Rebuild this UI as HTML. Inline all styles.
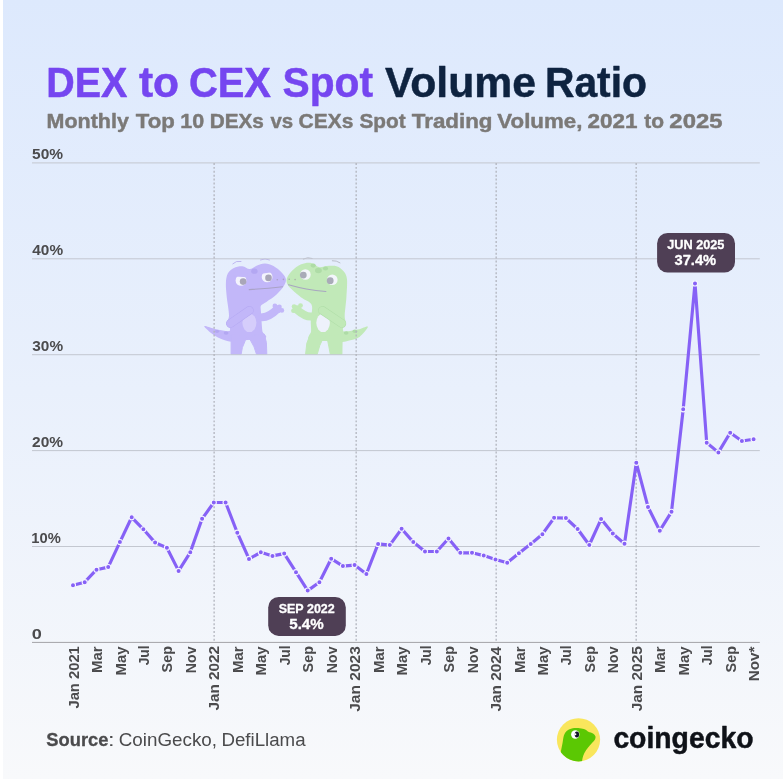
<!DOCTYPE html>
<html lang="en">
<head>
<meta charset="utf-8">
<title>DEX to CEX Spot Volume Ratio</title>
<style>
html,body{margin:0;padding:0;background:#fff;}
body{width:783px;height:779px;overflow:hidden;}
svg{display:block;font-family:"Liberation Sans",sans-serif;}
</style>
</head>
<body>
<svg width="783" height="779" viewBox="0 0 783 779">
<defs>
<linearGradient id="bg" x1="0" y1="0" x2="0" y2="1">
<stop offset="0" stop-color="#dde9fd"/>
<stop offset="0.5" stop-color="#e9f0fc"/>
<stop offset="1" stop-color="#f8f9fb"/>
</linearGradient>
</defs>
<rect x="0" y="0" width="783" height="779" fill="#fff"/>
<rect x="3" y="0" width="780" height="779" fill="url(#bg)"/>
<g id="geckos">
<path d="M204.2,326.3C204.4,325.3 210.6,328.0 214.1,328.7C217.7,329.5 222.3,330.5 225.4,331.0C228.6,331.6 231.9,330.3 233.2,332.0C234.5,333.7 235.0,340.2 233.2,341.5C231.4,342.7 225.9,340.6 222.6,339.5C219.3,338.4 216.5,337.0 213.4,334.8C210.4,332.6 204.1,327.4 204.2,326.3Z" fill="#c2b7f9"/>
<ellipse cx="217.0" cy="331.3" rx="2.2" ry="1.6" fill="#b3a7f2"/>
<ellipse cx="226.1" cy="333.0" rx="2.4" ry="1.7" fill="#b3a7f2"/>
<path d="M231.1,339.8C225.4,338.1 230.8,331.2 230.0,328.5C229.2,325.8 226.4,325.6 226.3,323.5C226.1,321.4 228.9,320.1 229.0,315.8C229.1,311.4 227.4,302.8 226.8,297.4C226.3,292.0 225.7,287.3 225.9,283.3C226.0,279.3 226.5,275.9 227.8,273.4C229.2,270.8 231.5,269.2 233.9,268.0C236.3,266.8 239.7,266.1 242.4,266.3C245.0,266.5 247.4,269.2 249.7,269.1C252.1,269.0 254.0,266.7 256.5,265.7C259.1,264.8 262.2,263.4 265.0,263.5C267.8,263.5 270.6,264.5 273.5,266.0C276.3,267.6 279.9,270.4 281.9,272.7C284.0,274.9 285.6,277.1 285.9,279.3C286.2,281.5 285.5,283.2 283.9,285.8C282.3,288.4 279.2,292.2 276.3,294.8C273.4,297.5 268.9,300.1 266.4,301.9C263.9,303.7 261.9,303.9 261.0,305.6C260.1,307.3 260.9,309.6 261.0,312.2C261.1,314.9 261.4,318.2 261.6,321.4C261.8,324.6 262.0,328.5 262.4,331.3C262.9,334.1 269.5,336.9 264.3,338.4C259.1,339.8 236.8,341.4 231.1,339.8Z" fill="#c2b7f9"/>
<path d="M231.1,334.1 L246.6,336.2 L244.9,341.5 L242.4,347.5 L241.1,354.3 L231.1,354.3Z" fill="#c2b7f9" stroke="#c2b7f9" stroke-width="1" stroke-linejoin="round"/>
<path d="M247.3,336.2 L264.3,334.1 L266.4,342.6 L266.8,354.3 L256.5,354.3 L254.0,346.8 L250.2,339.8Z" fill="#c2b7f9" stroke="#c2b7f9" stroke-width="1" stroke-linejoin="round"/>
<path d="M262.2,317.2 Q269.2,317.2 277.0,309.4" fill="none" stroke="#c2b7f9" stroke-width="8" stroke-linecap="round"/>
<circle cx="274.9" cy="305.9" r="2.4" fill="#c2b7f9"/>
<circle cx="279.4" cy="307.0" r="2.4" fill="#c2b7f9"/>
<circle cx="281.9" cy="310.4" r="2.3" fill="#c2b7f9"/>
<circle cx="277.7" cy="309.4" r="3.6" fill="#c2b7f9"/>
<ellipse cx="249.4" cy="322.8" rx="7" ry="9.3" fill="#d5cdfb"/>
<path d="M230.4,323.5 L249.4,310.4" fill="none" stroke="#b3a7f2" stroke-width="8.6" stroke-linecap="round"/>
<path d="M230.4,323.5 L249.4,310.4" fill="none" stroke="#c2b7f9" stroke-width="7.6" stroke-linecap="round"/>
<circle cx="241.0" cy="280.4" r="5.4" fill="#f3f3fd"/>
<circle cx="243.1" cy="281.6" r="3.3" fill="#a9a6b8"/>
<circle cx="267.1" cy="276.9" r="5.4" fill="#f3f3fd"/>
<circle cx="268.5" cy="277.9" r="3.3" fill="#a9a6b8"/>
<path d="M233.9,276.5 L248.0,277.3 L247.3,273.4 L234.6,271.2Z" fill="#c2b7f9"/>
<path d="M260.0,273.9 L273.5,272.0 L273.5,268.4 L260.0,269.1Z" fill="#c2b7f9"/>
<ellipse cx="254.4" cy="271.2" rx="3.2" ry="2.6" fill="#b3a7f2"/>
<path d="M249.2,289.6 Q266.4,288.6 282.7,286.8" fill="none" stroke="#a9a2c6" stroke-width="1.1" stroke-linecap="round"/>
<circle cx="277.3" cy="279.7" r="0.8" fill="#a9a2c6"/>
<circle cx="283.4" cy="279.4" r="0.8" fill="#a9a2c6"/>
<path d="M232.8,263.8 Q236.0,260.4 241.0,261.4" fill="none" stroke="#b9b0ee" stroke-width="0.9" stroke-linecap="round"/>
<path d="M260.5,259.9 Q265.0,257.8 269.5,259.9" fill="none" stroke="#b9b0ee" stroke-width="0.9" stroke-linecap="round"/>
<path d="M367.9,326.8C367.8,325.5 362.5,328.4 359.1,329.2C355.8,329.9 351.0,330.8 347.8,331.3C344.6,331.8 341.2,330.7 340.0,332.4C338.9,334.1 339.2,340.1 340.8,341.5C342.3,342.8 346.0,341.4 349.2,340.6C352.4,339.8 356.7,339.0 359.8,336.7C362.9,334.4 368.0,328.0 367.9,326.8Z" fill="#c1e9b8"/>
<ellipse cx="346.1" cy="333.0" rx="2.4" ry="1.7" fill="#aedca6"/>
<ellipse cx="354.9" cy="331.3" rx="2.4" ry="1.7" fill="#aedca6"/>
<path d="M286.8,278.7C287.5,276.4 289.6,273.2 292.0,270.8C294.4,268.4 298.0,265.6 301.2,264.3C304.4,263.0 308.1,262.4 311.1,262.9C314.1,263.4 316.7,266.6 319.3,267.2C321.9,267.7 323.8,266.2 326.6,266.0C329.5,265.9 333.7,265.4 336.5,266.3C339.3,267.2 341.8,269.1 343.6,271.2C345.3,273.4 346.5,274.9 347.0,279.3C347.4,283.7 346.8,291.3 346.4,297.4C346.0,303.5 344.8,311.5 344.7,315.8C344.6,320.0 346.1,321.0 345.8,323.1C345.5,325.2 343.5,325.7 342.9,328.5C342.3,331.2 347.6,337.9 342.2,339.8C336.7,341.7 315.6,341.2 310.4,339.8C305.2,338.4 311.0,334.6 311.1,331.3C311.2,328.0 310.7,324.4 310.8,320.0C310.9,315.6 313.2,308.5 311.6,304.7C310.0,301.0 304.3,299.8 301.2,297.4C298.0,295.0 295.0,292.4 292.7,290.3C290.5,288.2 288.8,286.9 287.8,285.0C286.8,283.0 286.1,281.1 286.8,278.7Z" fill="#c1e9b8"/>
<path d="M310.4,334.1 L326.6,336.2 L322.4,339.8 L319.8,345.4 L317.2,354.3 L305.6,354.3 L306.8,343.3Z" fill="#c1e9b8" stroke="#c1e9b8" stroke-width="1" stroke-linejoin="round"/>
<path d="M325.2,336.2 L342.2,334.1 L341.9,354.3 L330.3,354.3 L328.9,346.8 L327.5,339.8Z" fill="#c1e9b8" stroke="#c1e9b8" stroke-width="1" stroke-linejoin="round"/>
<path d="M311.8,316.5 Q305.4,317.2 296.7,309.4" fill="none" stroke="#c1e9b8" stroke-width="8" stroke-linecap="round"/>
<circle cx="294.1" cy="306.6" r="2.4" fill="#c1e9b8"/>
<circle cx="300.5" cy="305.6" r="2.4" fill="#c1e9b8"/>
<circle cx="293.4" cy="310.8" r="2.3" fill="#c1e9b8"/>
<circle cx="297.0" cy="309.4" r="3.6" fill="#c1e9b8"/>
<ellipse cx="323.1" cy="322.8" rx="6.8" ry="9.3" fill="#eef1fb"/>
<path d="M341.9,323.5 L322.4,310.4" fill="none" stroke="#aedca6" stroke-width="8.6" stroke-linecap="round"/>
<path d="M341.9,323.5 L322.4,310.4" fill="none" stroke="#c1e9b8" stroke-width="7.6" stroke-linecap="round"/>
<circle cx="305.4" cy="274.5" r="5.3" fill="#f3f6fb"/>
<circle cx="303.3" cy="275.1" r="3.4" fill="#a9abb8"/>
<circle cx="332.3" cy="279.7" r="5.3" fill="#f3f6fb"/>
<circle cx="330.2" cy="280.7" r="3.4" fill="#a9abb8"/>
<ellipse cx="313.2" cy="265.6" rx="2.6" ry="2.1" fill="#aedca6"/>
<ellipse cx="318.4" cy="270.5" rx="3.4" ry="2.8" fill="#aedca6"/>
<ellipse cx="325.5" cy="268.4" rx="2.6" ry="2.0" fill="#aedca6"/>
<path d="M288.5,284.7 Q305.4,289.6 325.9,291.5" fill="none" stroke="#a8a6c0" stroke-width="1.1" stroke-linecap="round"/>
<circle cx="289.2" cy="279.3" r="0.8" fill="#a8b0a8"/>
<circle cx="295.1" cy="279.6" r="0.8" fill="#a8b0a8"/>
<path d="M303.3,259.0 Q307.6,256.7 312.2,258.4" fill="none" stroke="#b5b9c4" stroke-width="0.9" stroke-linecap="round"/>
<path d="M332.3,260.7 Q336.5,260.4 340.0,262.8" fill="none" stroke="#b5b9c4" stroke-width="0.9" stroke-linecap="round"/>
</g>
<g fill="#c3c7d0"><rect x="32" y="162.40" width="727.8" height="1"/><rect x="32" y="258.30" width="727.8" height="1"/><rect x="32" y="354.20" width="727.8" height="1"/><rect x="32" y="450.10" width="727.8" height="1"/><rect x="32" y="546.00" width="727.8" height="1"/><rect x="32" y="641.90" width="727.8" height="1" fill="#a3a4a8"/></g>
<g stroke="#b1b4bd" stroke-width="1.3" stroke-dasharray="1.95 1.95"><line x1="214.13" y1="163" x2="214.13" y2="642"/><line x1="356.17" y1="163" x2="356.17" y2="642"/><line x1="496.17" y1="163" x2="496.17" y2="642"/><line x1="636.17" y1="163" x2="636.17" y2="642"/></g>
<polyline points="73.0,585.2 84.7,582.2 96.5,569.7 108.2,567.1 119.9,542.1 131.7,517.3 143.4,529.3 155.1,542.6 166.9,547.7 178.6,570.9 190.3,552.3 202.1,518.8 213.8,502.5 225.6,502.5 237.3,532.7 249.0,558.9 260.8,552.3 272.5,555.9 284.2,553.6 296.0,572.2 307.7,590.6 319.4,582.2 331.2,558.7 342.9,566.1 354.6,565.1 366.4,574.0 378.1,543.9 389.8,545.1 401.6,528.8 413.3,542.1 425.0,551.5 436.8,551.5 448.5,538.5 460.3,552.8 472.0,552.8 483.7,555.6 495.5,559.4 507.2,562.8 518.9,553.3 530.7,544.1 542.4,534.2 554.1,517.8 565.9,518.1 577.6,529.0 589.3,545.0 601.1,519.1 612.8,533.6 624.5,543.7 636.3,462.8 648.0,506.9 659.8,530.7 671.5,511.8 683.2,409.3 695.0,283.4 706.7,442.8 718.4,452.4 730.2,432.8 741.9,441.0 753.6,439.2" fill="none" stroke="#8661f6" stroke-width="3.15" stroke-linejoin="round" stroke-linecap="round"/>
<g fill="#8661f6" stroke="#f5f5ff" stroke-width="1.1"><circle cx="73.0" cy="585.2" r="2.55"/><circle cx="84.7" cy="582.2" r="2.55"/><circle cx="96.5" cy="569.7" r="2.55"/><circle cx="108.2" cy="567.1" r="2.55"/><circle cx="119.9" cy="542.1" r="2.55"/><circle cx="131.7" cy="517.3" r="2.55"/><circle cx="143.4" cy="529.3" r="2.55"/><circle cx="155.1" cy="542.6" r="2.55"/><circle cx="166.9" cy="547.7" r="2.55"/><circle cx="178.6" cy="570.9" r="2.55"/><circle cx="190.3" cy="552.3" r="2.55"/><circle cx="202.1" cy="518.8" r="2.55"/><circle cx="213.8" cy="502.5" r="2.55"/><circle cx="225.6" cy="502.5" r="2.55"/><circle cx="237.3" cy="532.7" r="2.55"/><circle cx="249.0" cy="558.9" r="2.55"/><circle cx="260.8" cy="552.3" r="2.55"/><circle cx="272.5" cy="555.9" r="2.55"/><circle cx="284.2" cy="553.6" r="2.55"/><circle cx="296.0" cy="572.2" r="2.55"/><circle cx="307.7" cy="590.6" r="2.55"/><circle cx="319.4" cy="582.2" r="2.55"/><circle cx="331.2" cy="558.7" r="2.55"/><circle cx="342.9" cy="566.1" r="2.55"/><circle cx="354.6" cy="565.1" r="2.55"/><circle cx="366.4" cy="574.0" r="2.55"/><circle cx="378.1" cy="543.9" r="2.55"/><circle cx="389.8" cy="545.1" r="2.55"/><circle cx="401.6" cy="528.8" r="2.55"/><circle cx="413.3" cy="542.1" r="2.55"/><circle cx="425.0" cy="551.5" r="2.55"/><circle cx="436.8" cy="551.5" r="2.55"/><circle cx="448.5" cy="538.5" r="2.55"/><circle cx="460.3" cy="552.8" r="2.55"/><circle cx="472.0" cy="552.8" r="2.55"/><circle cx="483.7" cy="555.6" r="2.55"/><circle cx="495.5" cy="559.4" r="2.55"/><circle cx="507.2" cy="562.8" r="2.55"/><circle cx="518.9" cy="553.3" r="2.55"/><circle cx="530.7" cy="544.1" r="2.55"/><circle cx="542.4" cy="534.2" r="2.55"/><circle cx="554.1" cy="517.8" r="2.55"/><circle cx="565.9" cy="518.1" r="2.55"/><circle cx="577.6" cy="529.0" r="2.55"/><circle cx="589.3" cy="545.0" r="2.55"/><circle cx="601.1" cy="519.1" r="2.55"/><circle cx="612.8" cy="533.6" r="2.55"/><circle cx="624.5" cy="543.7" r="2.55"/><circle cx="636.3" cy="462.8" r="2.55"/><circle cx="648.0" cy="506.9" r="2.55"/><circle cx="659.8" cy="530.7" r="2.55"/><circle cx="671.5" cy="511.8" r="2.55"/><circle cx="683.2" cy="409.3" r="2.55"/><circle cx="695.0" cy="283.4" r="2.55"/><circle cx="706.7" cy="442.8" r="2.55"/><circle cx="718.4" cy="452.4" r="2.55"/><circle cx="730.2" cy="432.8" r="2.55"/><circle cx="741.9" cy="441.0" r="2.55"/><circle cx="753.6" cy="439.2" r="2.55"/></g>
<rect x="657.1" y="232.9" width="77.9" height="39.7" rx="10.5" fill="#4f3f55"/>
<rect x="268.2" y="596.9" width="77.6" height="39" rx="10.5" fill="#4f3f55"/>
<g id="logo">
<clipPath id="lc"><circle cx="578.5" cy="739.8" r="21.6"/></clipPath>
<circle cx="578.5" cy="739.8" r="21.6" fill="#f9e65c"/>
<path d="M557.3,767.2C556.4,764.3 559.5,757.9 560.3,753.9C561.2,750.0 561.8,746.8 562.4,743.7C563.0,740.7 563.2,737.7 563.9,735.5C564.6,733.4 565.3,732.1 566.7,730.9C568.0,729.8 569.6,729.0 571.8,728.5C573.9,728.0 577.5,728.0 579.7,728.2C582.0,728.3 583.6,728.8 585.1,729.4C586.5,730.0 587.1,731.0 588.4,731.7C589.8,732.3 591.9,732.8 593.0,733.5C594.2,734.2 595.0,735.2 595.4,736.2C595.7,737.1 595.5,738.3 595.0,739.4C594.4,740.5 593.2,741.5 592.0,742.9C590.8,744.3 589.2,746.1 587.9,747.8C586.7,749.5 585.3,751.2 584.4,752.9C583.6,754.6 583.0,756.3 582.6,758.0C582.2,759.7 582.0,761.3 581.8,763.1C581.6,765.0 584.0,767.9 581.3,769.3C578.5,770.6 569.4,771.6 565.4,771.3C561.4,771.0 558.1,770.1 557.3,767.2Z" fill="#5bc803" clip-path="url(#lc)"/>
<circle cx="575.3" cy="734.5" r="4.2" fill="#fff"/>
<ellipse cx="576.9" cy="734.5" rx="2.2" ry="3.0" fill="#15152a"/>
<circle cx="575.4" cy="734.2" r="1.0" fill="#fff"/>
</g>
<g>
<text x="46.19" y="97.00" font-size="42.4" font-weight="bold" fill="#7546f0" stroke="#7546f0" stroke-width="0.5" stroke-linejoin="round" textLength="81.15" lengthAdjust="spacingAndGlyphs">DEX</text>
<text x="138.95" y="97.00" font-size="42.4" font-weight="bold" fill="#7546f0" stroke="#7546f0" stroke-width="0.5" stroke-linejoin="round" textLength="40.12" lengthAdjust="spacingAndGlyphs">to</text>
<text x="188.90" y="97.00" font-size="42.4" font-weight="bold" fill="#7546f0" stroke="#7546f0" stroke-width="0.5" stroke-linejoin="round" textLength="82.04" lengthAdjust="spacingAndGlyphs">CEX</text>
<text x="282.55" y="97.00" font-size="42.4" font-weight="bold" fill="#7546f0" stroke="#7546f0" stroke-width="0.5" stroke-linejoin="round" textLength="90.52" lengthAdjust="spacingAndGlyphs">Spot</text>
<text x="385.00" y="97.00" font-size="42.4" font-weight="bold" fill="#0e2340" stroke="#0e2340" stroke-width="0.5" stroke-linejoin="round" textLength="150.93" lengthAdjust="spacingAndGlyphs">Volume</text>
<text x="545.01" y="97.00" font-size="42.4" font-weight="bold" fill="#0e2340" stroke="#0e2340" stroke-width="0.5" stroke-linejoin="round" textLength="101.91" lengthAdjust="spacingAndGlyphs">Ratio</text>
<text x="46.64" y="127.50" font-size="20.8" font-weight="bold" fill="#7b7977" stroke="#7b7977" stroke-width="0.45" stroke-linejoin="round" textLength="82.27" lengthAdjust="spacingAndGlyphs">Monthly</text>
<text x="135.76" y="127.50" font-size="20.8" font-weight="bold" fill="#7b7977" stroke="#7b7977" stroke-width="0.45" stroke-linejoin="round" textLength="39.00" lengthAdjust="spacingAndGlyphs">Top</text>
<text x="180.24" y="127.50" font-size="20.8" font-weight="bold" fill="#7b7977" stroke="#7b7977" stroke-width="0.45" stroke-linejoin="round" textLength="23.86" lengthAdjust="spacingAndGlyphs">10</text>
<text x="209.68" y="127.50" font-size="20.8" font-weight="bold" fill="#7b7977" stroke="#7b7977" stroke-width="0.45" stroke-linejoin="round" textLength="54.22" lengthAdjust="spacingAndGlyphs">DEXs</text>
<text x="270.43" y="127.50" font-size="20.8" font-weight="bold" fill="#7b7977" stroke="#7b7977" stroke-width="0.45" stroke-linejoin="round" textLength="22.72" lengthAdjust="spacingAndGlyphs">vs</text>
<text x="298.57" y="127.50" font-size="20.8" font-weight="bold" fill="#7b7977" stroke="#7b7977" stroke-width="0.45" stroke-linejoin="round" textLength="54.74" lengthAdjust="spacingAndGlyphs">CEXs</text>
<text x="359.53" y="127.50" font-size="20.8" font-weight="bold" fill="#7b7977" stroke="#7b7977" stroke-width="0.45" stroke-linejoin="round" textLength="46.17" lengthAdjust="spacingAndGlyphs">Spot</text>
<text x="411.76" y="127.50" font-size="20.8" font-weight="bold" fill="#7b7977" stroke="#7b7977" stroke-width="0.45" stroke-linejoin="round" textLength="80.78" lengthAdjust="spacingAndGlyphs">Trading</text>
<text x="497.36" y="127.50" font-size="20.8" font-weight="bold" fill="#7b7977" stroke="#7b7977" stroke-width="0.45" stroke-linejoin="round" textLength="84.97" lengthAdjust="spacingAndGlyphs">Volume,</text>
<text x="587.62" y="127.50" font-size="20.8" font-weight="bold" fill="#7b7977" stroke="#7b7977" stroke-width="0.45" stroke-linejoin="round" textLength="49.92" lengthAdjust="spacingAndGlyphs">2021</text>
<text x="644.17" y="127.50" font-size="20.8" font-weight="bold" fill="#7b7977" stroke="#7b7977" stroke-width="0.45" stroke-linejoin="round" textLength="19.80" lengthAdjust="spacingAndGlyphs">to</text>
<text x="669.36" y="127.50" font-size="20.8" font-weight="bold" fill="#7b7977" stroke="#7b7977" stroke-width="0.45" stroke-linejoin="round" textLength="53.10" lengthAdjust="spacingAndGlyphs">2025</text>
<text x="32.07" y="159.20" font-size="14.6" font-weight="bold" fill="#4b4b4d" textLength="31.03" lengthAdjust="spacingAndGlyphs">50%</text>
<text x="32.34" y="255.10" font-size="14.6" font-weight="bold" fill="#4b4b4d" textLength="30.76" lengthAdjust="spacingAndGlyphs">40%</text>
<text x="32.34" y="351.00" font-size="14.6" font-weight="bold" fill="#4b4b4d" textLength="30.76" lengthAdjust="spacingAndGlyphs">30%</text>
<text x="32.07" y="446.90" font-size="14.6" font-weight="bold" fill="#4b4b4d" textLength="31.03" lengthAdjust="spacingAndGlyphs">20%</text>
<text x="31.29" y="542.80" font-size="14.6" font-weight="bold" fill="#4b4b4d" textLength="29.48" lengthAdjust="spacingAndGlyphs">10%</text>
<text x="31.88" y="638.70" font-size="14.6" font-weight="bold" fill="#4b4b4d" textLength="10.10" lengthAdjust="spacingAndGlyphs">0</text>
<text transform="rotate(-90)" x="-708.55" y="78.60" font-size="14.6" font-weight="bold" fill="#4b4b4d" textLength="62.38" lengthAdjust="spacingAndGlyphs">Jan 2021</text>
<text transform="rotate(-90)" x="-672.92" y="102.07" font-size="14.6" font-weight="bold" fill="#4b4b4d" textLength="26.53" lengthAdjust="spacingAndGlyphs">Mar</text>
<text transform="rotate(-90)" x="-675.42" y="125.54" font-size="14.6" font-weight="bold" fill="#4b4b4d" textLength="28.96" lengthAdjust="spacingAndGlyphs">May</text>
<text transform="rotate(-90)" x="-665.33" y="149.01" font-size="14.6" font-weight="bold" fill="#4b4b4d" textLength="19.76" lengthAdjust="spacingAndGlyphs">Jul</text>
<text transform="rotate(-90)" x="-672.39" y="172.48" font-size="14.6" font-weight="bold" fill="#4b4b4d" textLength="26.30" lengthAdjust="spacingAndGlyphs">Sep</text>
<text transform="rotate(-90)" x="-673.17" y="195.95" font-size="14.6" font-weight="bold" fill="#4b4b4d" textLength="26.64" lengthAdjust="spacingAndGlyphs">Nov</text>
<text transform="rotate(-90)" x="-710.46" y="219.42" font-size="14.6" font-weight="bold" fill="#4b4b4d" textLength="64.57" lengthAdjust="spacingAndGlyphs">Jan 2022</text>
<text transform="rotate(-90)" x="-672.92" y="242.89" font-size="14.6" font-weight="bold" fill="#4b4b4d" textLength="26.53" lengthAdjust="spacingAndGlyphs">Mar</text>
<text transform="rotate(-90)" x="-675.42" y="266.36" font-size="14.6" font-weight="bold" fill="#4b4b4d" textLength="28.96" lengthAdjust="spacingAndGlyphs">May</text>
<text transform="rotate(-90)" x="-665.33" y="289.83" font-size="14.6" font-weight="bold" fill="#4b4b4d" textLength="19.76" lengthAdjust="spacingAndGlyphs">Jul</text>
<text transform="rotate(-90)" x="-672.39" y="313.30" font-size="14.6" font-weight="bold" fill="#4b4b4d" textLength="26.30" lengthAdjust="spacingAndGlyphs">Sep</text>
<text transform="rotate(-90)" x="-673.17" y="336.77" font-size="14.6" font-weight="bold" fill="#4b4b4d" textLength="26.64" lengthAdjust="spacingAndGlyphs">Nov</text>
<text transform="rotate(-90)" x="-711.87" y="360.24" font-size="14.6" font-weight="bold" fill="#4b4b4d" textLength="65.72" lengthAdjust="spacingAndGlyphs">Jan 2023</text>
<text transform="rotate(-90)" x="-672.92" y="383.71" font-size="14.6" font-weight="bold" fill="#4b4b4d" textLength="26.53" lengthAdjust="spacingAndGlyphs">Mar</text>
<text transform="rotate(-90)" x="-675.42" y="407.18" font-size="14.6" font-weight="bold" fill="#4b4b4d" textLength="28.96" lengthAdjust="spacingAndGlyphs">May</text>
<text transform="rotate(-90)" x="-665.33" y="430.65" font-size="14.6" font-weight="bold" fill="#4b4b4d" textLength="19.76" lengthAdjust="spacingAndGlyphs">Jul</text>
<text transform="rotate(-90)" x="-672.39" y="454.12" font-size="14.6" font-weight="bold" fill="#4b4b4d" textLength="26.30" lengthAdjust="spacingAndGlyphs">Sep</text>
<text transform="rotate(-90)" x="-673.17" y="477.59" font-size="14.6" font-weight="bold" fill="#4b4b4d" textLength="26.64" lengthAdjust="spacingAndGlyphs">Nov</text>
<text transform="rotate(-90)" x="-711.56" y="501.06" font-size="14.6" font-weight="bold" fill="#4b4b4d" textLength="64.88" lengthAdjust="spacingAndGlyphs">Jan 2024</text>
<text transform="rotate(-90)" x="-672.92" y="524.53" font-size="14.6" font-weight="bold" fill="#4b4b4d" textLength="26.53" lengthAdjust="spacingAndGlyphs">Mar</text>
<text transform="rotate(-90)" x="-675.42" y="548.00" font-size="14.6" font-weight="bold" fill="#4b4b4d" textLength="28.96" lengthAdjust="spacingAndGlyphs">May</text>
<text transform="rotate(-90)" x="-665.33" y="571.47" font-size="14.6" font-weight="bold" fill="#4b4b4d" textLength="19.76" lengthAdjust="spacingAndGlyphs">Jul</text>
<text transform="rotate(-90)" x="-672.39" y="594.94" font-size="14.6" font-weight="bold" fill="#4b4b4d" textLength="26.30" lengthAdjust="spacingAndGlyphs">Sep</text>
<text transform="rotate(-90)" x="-673.17" y="618.41" font-size="14.6" font-weight="bold" fill="#4b4b4d" textLength="26.64" lengthAdjust="spacingAndGlyphs">Nov</text>
<text transform="rotate(-90)" x="-711.36" y="641.88" font-size="14.6" font-weight="bold" fill="#4b4b4d" textLength="65.21" lengthAdjust="spacingAndGlyphs">Jan 2025</text>
<text transform="rotate(-90)" x="-672.92" y="665.35" font-size="14.6" font-weight="bold" fill="#4b4b4d" textLength="26.53" lengthAdjust="spacingAndGlyphs">Mar</text>
<text transform="rotate(-90)" x="-675.42" y="688.82" font-size="14.6" font-weight="bold" fill="#4b4b4d" textLength="28.96" lengthAdjust="spacingAndGlyphs">May</text>
<text transform="rotate(-90)" x="-665.33" y="712.29" font-size="14.6" font-weight="bold" fill="#4b4b4d" textLength="19.76" lengthAdjust="spacingAndGlyphs">Jul</text>
<text transform="rotate(-90)" x="-672.39" y="735.76" font-size="14.6" font-weight="bold" fill="#4b4b4d" textLength="26.30" lengthAdjust="spacingAndGlyphs">Sep</text>
<text transform="rotate(-90)" x="-681.24" y="759.23" font-size="14.6" font-weight="bold" fill="#4b4b4d" textLength="34.64" lengthAdjust="spacingAndGlyphs">Nov*</text>
<text x="667.20" y="249.00" font-size="12.7" font-weight="bold" fill="#fff" stroke="#fff" stroke-width="0.3" stroke-linejoin="round" textLength="57.24" lengthAdjust="spacingAndGlyphs">JUN 2025</text>
<text x="674.50" y="265.20" font-size="14.8" font-weight="bold" fill="#fff" stroke="#fff" stroke-width="0.3" stroke-linejoin="round" textLength="41.71" lengthAdjust="spacingAndGlyphs">37.4%</text>
<text x="278.66" y="613.00" font-size="12.7" font-weight="bold" fill="#fff" stroke="#fff" stroke-width="0.3" stroke-linejoin="round" textLength="56.11" lengthAdjust="spacingAndGlyphs">SEP 2022</text>
<text x="289.24" y="629.20" font-size="14.8" font-weight="bold" fill="#fff" stroke="#fff" stroke-width="0.3" stroke-linejoin="round" textLength="34.51" lengthAdjust="spacingAndGlyphs">5.4%</text>
<text x="46.36" y="745.50" font-size="18.8" font-weight="bold" fill="#4b4b4d" stroke="#4b4b4d" stroke-width="0.3" stroke-linejoin="round" textLength="62.14" lengthAdjust="spacingAndGlyphs">Source</text>
<text x="107.90" y="745.50" font-size="18.8" font-weight="normal" fill="#4b4b4d" textLength="6.56" lengthAdjust="spacingAndGlyphs">:</text>
<text x="118.70" y="745.50" font-size="18.8" font-weight="normal" fill="#4b4b4d" textLength="98.33" lengthAdjust="spacingAndGlyphs">CoinGecko,</text>
<text x="221.41" y="745.50" font-size="18.8" font-weight="normal" fill="#4b4b4d" textLength="84.15" lengthAdjust="spacingAndGlyphs">DefiLlama</text>
<text x="613.38" y="747.70" font-size="30.2" font-weight="bold" fill="#0f1218" stroke="#0f1218" stroke-width="0.5" stroke-linejoin="round" textLength="140.07" lengthAdjust="spacingAndGlyphs">coingecko</text>
</g>
</svg>
</body>
</html>
